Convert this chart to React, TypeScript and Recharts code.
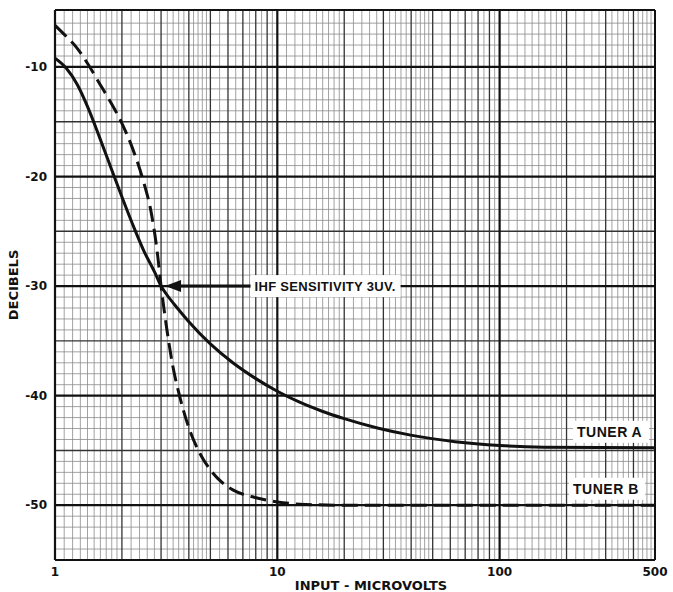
import { LineChart, Line, XAxis, YAxis, ReferenceLine, ReferenceDot } from "recharts"

// Tuner A (solid) and Tuner B (dashed)
const tunerAX = [1, 1.122, 1.259, 1.413, 1.585, 1.778, 1.995, 2.239, 2.512, 2.818, 3, 3.162, 3.548, 3.981, 5.012, 6.31, 7.94, 10, 12.6, 15.8, 20, 28.2, 39.8, 63, 100, 158, 500]
const tunerAY = [-9.2, -10.1, -11.6, -13.8, -16.4, -19.1, -21.8, -24.4, -26.8, -28.8, -30, -30.7, -32, -33.2, -35.3, -37, -38.4, -39.6, -40.6, -41.4, -42.1, -42.95, -43.6, -44.2, -44.55, -44.7, -44.75]

const tunerBX = [1, 1.122, 1.259, 1.413, 1.585, 1.778, 1.995, 2.239, 2.512, 2.692, 2.884, 3, 3.162, 3.388, 3.631, 3.981, 4.467, 5.012, 5.623, 6.31, 7.94, 10, 12.6, 20, 100, 500]
const tunerBY = [-6.2, -7.2, -8.3, -9.8, -11.5, -13.2, -15.1, -17.5, -20.6, -23, -26.9, -30, -33.5, -37.3, -40, -42.8, -45.2, -46.8, -47.9, -48.6, -49.3, -49.7, -49.9, -50, -50, -50]

const xTicks = [1, 10, 100, 500]
const yTicks = [-10, -20, -30, -40, -50]
const X_DOMAIN = [1, 500]
const Y_DOMAIN = [-55, -4.8]

// log paper rulings
const decades = [1, 10, 100]
const mediumX = decades.flatMap((d) => [2, 3, 4, 5, 6, 7, 8, 9].map((m) => m * d)).filter((v) => v < 500)
const fineSteps = [1.1, 1.2, 1.3, 1.4, 1.5, 1.6, 1.7, 1.8, 1.9, 2.2, 2.4, 2.6, 2.8, 3.2, 3.4, 3.6, 3.8, 4.2, 4.4, 4.6, 4.8, 5.5, 6.5, 7.5, 8.5, 9.5]
const fineX = decades.flatMap((d) => fineSteps.map((m) => m * d)).filter((v) => v < 500)
const majorY = [-10, -20, -30, -40, -50]
const mediumY = [-15, -25, -35, -45]
const fineY = Array.from({ length: 49 }, (_, i) => -6 - i).filter((v) => v % 5 !== 0)

const seriesA = tunerAX.map((x, i) => ({ x, y: tunerAY[i] }))
const seriesB = tunerBX.map((x, i) => ({ x, y: tunerBY[i] }))

const FONT = "'Liberation Sans', Arial, sans-serif"
const WIDE = "'DejaVu Sans', sans-serif"
const INK = "#111"

function Tag(props: any, text: string, w: number, size: number, spacing: number) {
  const { cx, cy } = props
  return (
    <g>
      <rect x={cx - 4} y={cy - 11} width={w} height={22} fill="#fff" />
      <text x={cx} y={cy} dy="0.36em" fontFamily={FONT} fontWeight="bold" fontSize={size} fill={INK} letterSpacing={spacing}>
        {text}
      </text>
    </g>
  )
}

export default function App() {
  return (
    <div style={{ position: "absolute", left: 0, top: 0, background: "#fff" }}>
      <LineChart width={673} height={592} margin={{ top: 10, right: 18, bottom: 0, left: 0 }}>
        <XAxis
          dataKey="x"
          type="number"
          scale="log"
          domain={X_DOMAIN}
          ticks={xTicks}
          allowDataOverflow
          height={32}
          tickSize={0}
          tickMargin={7}
          axisLine={{ stroke: INK, strokeWidth: 2 }}
          tick={{ fill: INK, fontSize: 12, fontWeight: "bold", fontFamily: WIDE }}
          label={{ value: "INPUT - MICROVOLTS", position: "insideBottom", offset: 2, dx: 16, fill: INK, fontSize: 13, fontWeight: "bold", fontFamily: WIDE }}
        />
        <YAxis
          type="number"
          domain={Y_DOMAIN}
          ticks={yTicks}
          allowDataOverflow
          width={55}
          tickSize={0}
          tickMargin={8}
          axisLine={{ stroke: INK, strokeWidth: 2 }}
          tick={{ fill: INK, fontSize: 12, fontWeight: "bold", fontFamily: WIDE }}
          label={{ value: "DECIBELS", angle: -90, position: "insideLeft", offset: 13, textAnchor: "middle", fill: INK, fontSize: 13, fontWeight: "bold", fontFamily: WIDE }}
        />

        {fineY.map((v) => (
          <ReferenceLine key={"fy" + v} y={v} stroke="#8a8a8a" strokeWidth={0.8} />
        ))}
        {fineX.map((v) => (
          <ReferenceLine key={"fx" + v} x={v} stroke="#8a8a8a" strokeWidth={0.8} />
        ))}
        {mediumY.map((v) => (
          <ReferenceLine key={"my" + v} y={v} stroke="#333" strokeWidth={1.4} />
        ))}
        {mediumX.map((v) => (
          <ReferenceLine key={"mx" + v} x={v} stroke="#333" strokeWidth={1.3} />
        ))}
        {majorY.map((v) => (
          <ReferenceLine key={"My" + v} y={v} stroke={INK} strokeWidth={2.2} />
        ))}
        {decades.map((v) => (
          <ReferenceLine key={"Mx" + v} x={v} stroke={INK} strokeWidth={2.2} />
        ))}
        <ReferenceLine x={500} stroke={INK} strokeWidth={2} />
        <ReferenceLine y={-4.8} stroke={INK} strokeWidth={2} />

        <Line data={seriesA} dataKey="y" type="monotone" stroke={INK} strokeWidth={3} dot={false} isAnimationActive={false} />
        <Line data={seriesB} dataKey="y" type="monotone" stroke={INK} strokeWidth={3} strokeDasharray="16 7" dot={false} isAnimationActive={false} />

        {/* IHF sensitivity pointer */}
        <ReferenceLine segment={[{ x: 3.3, y: -30 }, { x: 7.7, y: -30 }]} stroke={INK} strokeWidth={3} />
        <ReferenceDot
          x={3}
          y={-30}
          shape={(p: any) => <path d={`M${p.cx + 4},${p.cy} l16,-6 l0,12 z`} fill={INK} />}
        />
        <ReferenceDot x={7.9} y={-30} shape={(p: any) => Tag(p, "IHF SENSITIVITY 3UV.", 150, 13, 0.3)} />
        <ReferenceDot x={223} y={-43.3} shape={(p: any) => Tag(p, "TUNER A", 76, 14, 0.5)} />
        <ReferenceDot x={214} y={-48.5} shape={(p: any) => Tag(p, "TUNER B", 76, 14, 0.5)} />
      </LineChart>
    </div>
  )
}
